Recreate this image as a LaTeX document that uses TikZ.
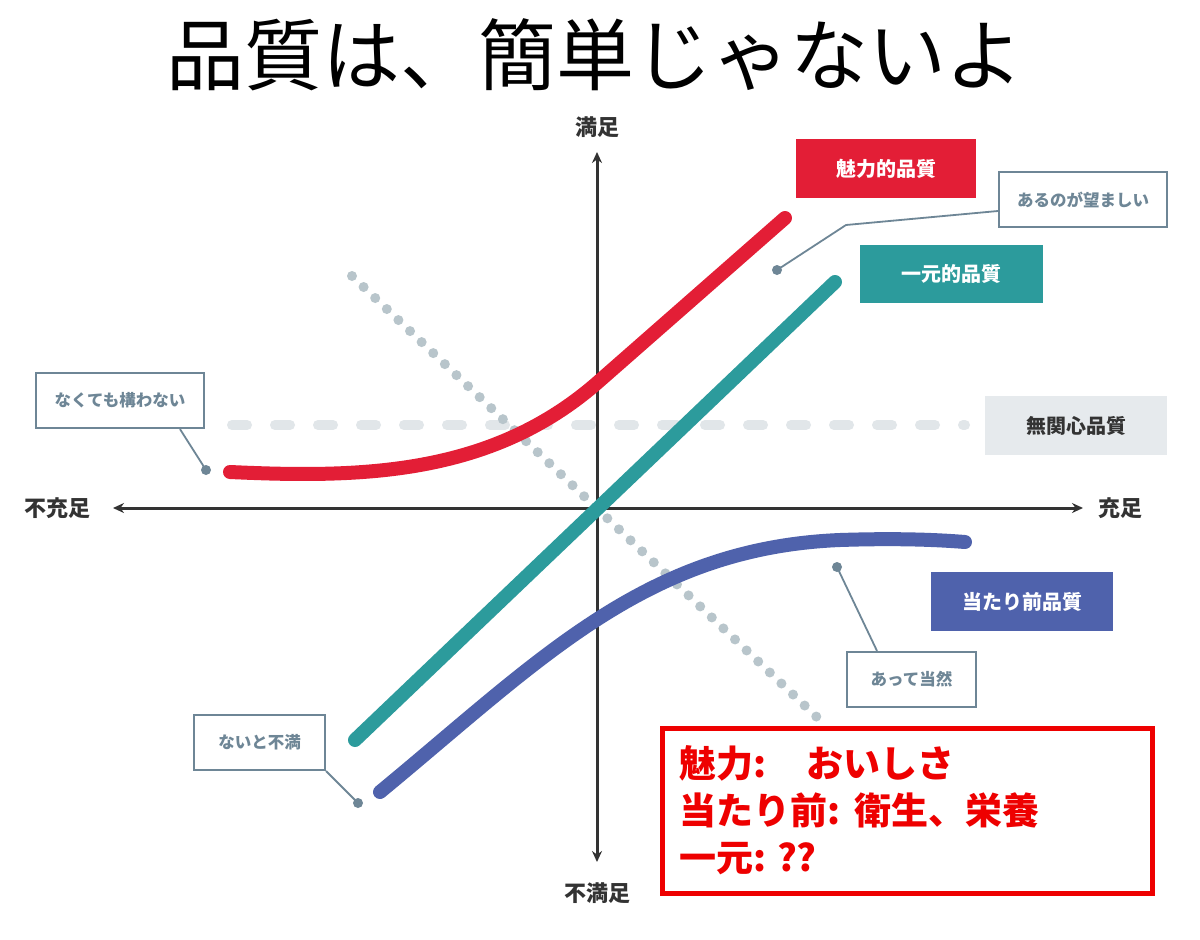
\documentclass[tikz,border=0pt]{standalone}
\usepackage{fontspec}
\setmainfont{Noto Sans CJK JP}
\usetikzlibrary{arrows.meta}
\definecolor{qred}{HTML}{E31E36}
\definecolor{qteal}{HTML}{2C9B9C}
\definecolor{qblue}{HTML}{4F62AC}
\definecolor{qgraybox}{HTML}{E6EAED}
\definecolor{qcall}{HTML}{6E8696}
\definecolor{qdots}{HTML}{B8C5CB}
\definecolor{qdash}{HTML}{E1E6E9}
\definecolor{qaxis}{HTML}{333333}
\definecolor{qnote}{HTML}{EE0000}
\tikzset{
  qualbox/.style={inner sep=0pt, minimum width=182pt, minimum height=59pt, text=white,
     font=\fontsize{20}{24}\selectfont\bfseries},
  callbox/.style={draw=qcall, line width=2.2pt, fill=white, inner sep=0pt, minimum height=55pt,
     text=qcall, font=\fontsize{16.5}{20}\selectfont\bfseries},
  callline/.style={draw=qcall, line width=1.8pt},
  calldot/.style={circle, fill=qcall, inner sep=0pt, minimum size=10pt},
  axisline/.style={draw=qaxis, line width=3pt, {Stealth[length=11pt,width=10pt]}-{Stealth[length=11pt,width=10pt]}},
  axislabel/.style={font=\fontsize{22}{26}\selectfont\bfseries, text=qaxis, inner sep=0pt},
  curve/.style={line width=14pt, line cap=round},
}
\begin{document}
\begin{tikzpicture}[x=1pt,y=-1pt]
\useasboundingbox[fill=white] (0,0) rectangle (1200,940);

% title
\node[font=\fontsize{78}{90}\selectfont, inner sep=0pt] (title) at (595,55) {品質は、簡単じゃないよ};

% indifferent dashed line
\draw[qdash, line width=10pt, line cap=round, dash pattern=on 15pt off 28pt] (232,425) -- (965,425);
% reverse dotted line
\draw[qdots, line width=10pt, line cap=round, dash pattern=on 0pt off 16pt] (352,276) -- (822,722);

% axes
\coordinate (axl) at (113,508);
\coordinate (axr) at (1083,508);
\coordinate (axt) at (597,152);
\coordinate (axb) at (597,862);
\draw[axisline] (axl) -- (axr);
\draw[axisline] (axb) -- (axt);
\node[axislabel] (lbl-l) at (57,508) {不充足};
\node[axislabel] (lbl-r) at (1120,508) {充足};
\node[axislabel] (lbl-t) at (597,127) {満足};
\node[axislabel] (lbl-b) at (597,893) {不満足};

% curves
\draw[curve, qred] (230,472) .. controls (360,478) and (490,476) .. (597,383) -- (785,218);
\draw[curve, qteal] (355,740) -- (835,282);
\draw[curve, qblue] (380,792) .. controls (540,660) and (645,548) .. (840,540) .. controls (900,538) and (940,540) .. (965,542);

% quality labels
\node[qualbox, fill=qred, minimum width=180pt] (q-attr) at (886,168.5) {魅力的品質};
\node[qualbox, fill=qteal, minimum width=183pt, minimum height=58pt] (q-one) at (951.5,274) {一元的品質};
\node[qualbox, fill=qgraybox, text=qaxis] (q-ind) at (1076,425.5) {無関心品質};
\node[qualbox, fill=qblue] (q-must) at (1022,601.5) {当たり前品質};

% callouts
\node[callbox, minimum width=168pt] (c-des) at (1083,199.5) {あるのが望ましい};
\node[callbox, minimum width=168pt] (c-ok) at (120,400.5) {なくても構わない};
\node[callbox, minimum width=131pt] (c-dis) at (259.5,742.5) {ないと不満};
\node[callbox, minimum width=129pt] (c-nat) at (911.5,679.5) {あって当然};

\node[calldot] (d-des) at (777,270) {};
\node[calldot] (d-ok) at (206,470) {};
\node[calldot] (d-dis) at (358,803) {};
\node[calldot] (d-nat) at (837,567) {};

\draw[callline] ([yshift=-11.5pt]c-des.west) -- (846,225) -- (d-des.center);
\draw[callline] ([xshift=60pt]c-ok.south) -- (d-ok.center);
\draw[callline] (c-dis.south east) -- (d-dis.center);
\draw[callline] ([xshift=-34.5pt]c-nat.north) -- (d-nat.center);

% note box
\node[draw=qnote, line width=5pt, fill=white, minimum width=490pt, minimum height=165pt,
      text width=456pt, align=left, inner sep=0pt, text=qnote,
      font=\fontsize{37}{47}\selectfont\bfseries] (note) at (907,810.5)
  {魅力:\hspace{1.1em}おいしさ\\当たり前:\hspace{0.4em}衛生、栄養\\一元:\hspace{0.3em}??};
\end{tikzpicture}
\end{document}
